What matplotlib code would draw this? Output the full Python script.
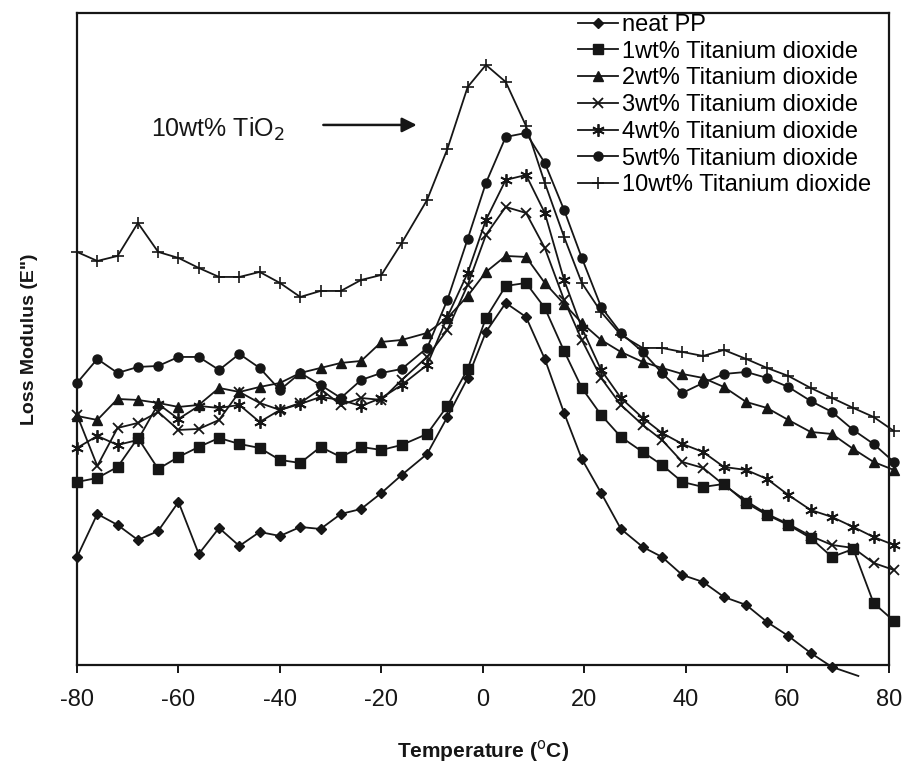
import matplotlib.pyplot as plt

plt.rcParams['font.family'] = ['Liberation Sans', 'DejaVu Sans']
plt.rcParams['axes.unicode_minus'] = False

# Temperature (deg C) at which each sample was measured
temps = [-80, -76, -72, -68, -64, -60, -56, -52, -48, -44,
         -40, -36, -32, -28, -24, -20, -16, -11, -7, -3,
         0.6, 4.5, 8.5, 12.2, 16, 19.5, 23.3, 27.2, 31.5, 35.3,
         39.3, 43.4, 47.5, 51.9, 56, 60.2, 64.6, 68.8, 73, 77, 81]

# Loss modulus, arbitrary units
neat_pp = [108, 151, 140, 125, 134, 163, 111, 137, 119, 133,
           129, 138, 136, 151, 156, 172, 190, 211, 248, 287,
           333, 362, 348, 306, 252, 206, 172, 136, 118, 108,
           90, 83, 68, 60, 43, 29, 12, -2, -11]
neat_temps = temps[:38] + [74]

tio2_1 = [183, 187, 198, 227, 196, 208, 218, 227, 221, 217,
          205, 202, 218, 208, 218, 215, 220, 231, 259, 296,
          347, 379, 382, 357, 314, 277, 250, 228, 213, 200,
          183, 178, 181, 162, 150, 140, 127, 108, 116, 62, 44]
tio2_2 = [249, 245, 266, 265, 262, 258, 260, 277, 273, 278,
          282, 292, 297, 302, 304, 323, 325, 332, 347, 369,
          393, 409, 408, 382, 361, 342, 325, 313, 303, 297,
          291, 287, 278, 263, 257, 245, 233, 231, 216, 203, 195]
tio2_3 = [250, 199, 237, 242, 253, 235, 236, 245, 273, 262,
          255, 262, 276, 260, 267, 265, 285, 308, 335, 380,
          430, 458, 452, 417, 365, 325, 287, 260, 240, 225,
          203, 197, 180, 164, 151, 141, 129, 120, 117, 102, 95]
tio2_4 = [217, 229, 220, 225, 261, 246, 259, 257, 260, 243,
          255, 261, 268, 265, 259, 267, 280, 300, 348, 392,
          445, 485, 490, 452, 385, 337, 295, 267, 247, 232,
          221, 213, 198, 195, 186, 170, 155, 148, 138, 128, 120]
tio2_5 = [282, 306, 292, 298, 299, 308, 308, 295, 311, 297,
          275, 292, 280, 267, 285, 292, 296, 317, 365, 426,
          482, 528, 532, 502, 455, 407, 358, 332, 313, 292,
          272, 282, 291, 293, 287, 278, 264, 253, 235, 221, 203]
tio2_10 = [413, 404, 409, 442, 413, 407, 397, 388, 388, 393,
           382, 368, 374, 374, 385, 390, 422, 465, 516, 578,
           600, 583, 539, 482, 428, 382, 353, 330, 317, 317,
           313, 309, 315, 306, 297, 289, 277, 267, 257, 248, 234]

labels = ['neat PP', '1wt% Titanium dioxide', '2wt% Titanium dioxide',
          '3wt% Titanium dioxide', '4wt% Titanium dioxide',
          '5wt% Titanium dioxide', '10wt% Titanium dioxide']

ink = '#161616'
fig = plt.figure(figsize=(9.06, 7.70), dpi=100)
ax = fig.add_axes([0.085, 0.1364, 0.896, 0.8468])

style = dict(color=ink, lw=1.3, clip_on=False)
ax.plot(neat_temps, neat_pp, marker='D', ms=5.5, markevery=list(range(38)),
        label=labels[0], **style)
ax.plot(temps, tio2_1, marker='s', ms=6.5, label=labels[1], **style)
ax.plot(temps, tio2_2, marker='^', ms=7, label=labels[2], **style)
ax.plot(temps, tio2_3, marker='x', ms=7, mew=1.3, label=labels[3], **style)
ax.plot(temps, tio2_4, marker=(6, 2, 0), ms=9, mew=1.3, label=labels[4], **style)
ax.plot(temps, tio2_5, marker='o', ms=6.5, label=labels[5], **style)
ax.plot(temps, tio2_10, marker='+', ms=9, mew=1.2, label=labels[6], **style)

ax.set_xlim(-80, 80)
ax.set_ylim(0, 652)
ax.set_xticks(range(-80, 81, 20))
ax.set_yticks([])
ax.tick_params(axis='x', direction='out', length=6, width=1.4,
               labelsize=17, colors=ink, pad=11)
for side in ax.spines.values():
    side.set_linewidth(1.6)
    side.set_color(ink)

ax.set_xlabel('Temperature ($^{\\mathrm{o}}$C)', fontsize=15,
              fontweight='bold', color=ink, labelpad=20)
ax.set_ylabel('Loss Modulus (E")', fontsize=14, fontweight='bold',
              color=ink, labelpad=28)

ax.annotate('', xy=(-12.5, 540), xytext=(-32, 540),
            arrowprops=dict(arrowstyle='-|>', color=ink, lw=1.8,
                            mutation_scale=22))
ax.text(-65.5, 536, '10wt% TiO$_2$', fontsize=18, color=ink,
        va='center', ha='left')

ax.legend(loc='upper left', bbox_to_anchor=(0.605, 1.013), frameon=False,
          fontsize=17, handlelength=1.7, handletextpad=0.2,
          labelspacing=0.2, borderaxespad=0)

fig.savefig('out.png', dpi=100)
